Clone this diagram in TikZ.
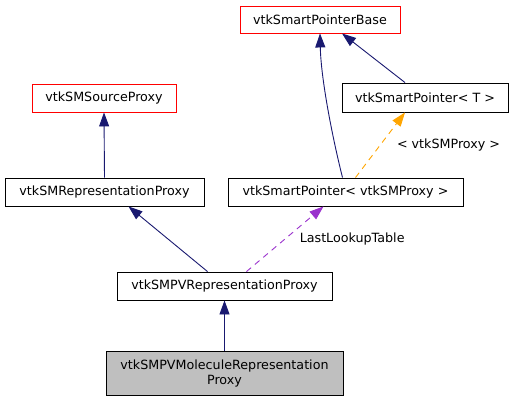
\documentclass[tikz,border=0pt]{standalone}
\usepackage{fontspec}
\setmainfont{DejaVu Sans}
\usepackage{tikz}
\usetikzlibrary{calc,arrows.meta}

\definecolor{edgeblue}{HTML}{191970}
\definecolor{edgepurple}{HTML}{9A32CD}
\definecolor{edgeorange}{HTML}{FFA500}
\definecolor{boxgray}{HTML}{BFBFBF}

\tikzset{
  cls/.style={draw=black, fill=white, line width=0.9pt, inner sep=0pt, align=center,
    font=\fontsize{12.7}{15}\selectfont},
  extcls/.style={cls, draw=red},
  inherit/.style={draw=edgeblue, line width=0.9pt, -{Triangle[length=14pt,width=10pt]}},
  usage/.style={line width=0.9pt, dash pattern=on 6pt off 5pt, -{Triangle[length=14pt,width=10pt]}},
}

\begin{document}
\begin{tikzpicture}[x=1pt, y=-1pt]
    \useasboundingbox (0,0) rectangle (513,401);
    %
    \node[extcls, minimum width=160pt, minimum height=27pt] (base) at (320, 19.5) {vtkSmartPointerBase};
    \node[cls, minimum width=166pt, minimum height=29pt] (spT) at (425, 97.5) {vtkSmartPointer< T >};
    \node[extcls, minimum width=144pt, minimum height=28pt] (src) at (104, 98) {vtkSMSourceProxy};

    %
    \node[cls, minimum width=199pt, minimum height=28pt] (rep) at (104.5, 192) {vtkSMRepresentationProxy};
    \node[cls, minimum width=235pt, minimum height=28pt] (spP) at (345.5, 192) {vtkSmartPointer< vtkSMProxy >};
    \node[cls, minimum width=215pt, minimum height=28pt] (pvrep) at (224.5, 286) {vtkSMPVRepresentationProxy};
    \node[cls, fill=boxgray, minimum width=237pt, minimum height=44pt] (mol) at (224.5, 373)
        {vtkSMPVMoleculeRepresentation\\Proxy};

    %
    \draw[inherit] (mol.north) -- (pvrep.south);
    \draw[inherit] ([xshift=-17pt]pvrep.north) -- ([xshift=24pt]rep.south);
    \draw[inherit] (rep.north) -- (src.south);
    \draw[inherit] ([xshift=-3pt]spP.north) .. controls (333,140) and (321,80) .. (base.south);
    \draw[inherit] ([xshift=-20pt]spT.north) -- ([xshift=22pt]base.south);

    %
    \draw[usage, edgepurple] ([xshift=22pt]pvrep.north) -- ([xshift=-22pt]spP.south)
        node[pos=0.5, right=11pt, black, font=\fontsize{12.7}{15}\selectfont] (lut) {LastLookupTable};
    \draw[usage, edgeorange] ([xshift=10pt]spP.north) -- ([xshift=-20pt]spT.south)
        node[pos=0.5, right=13pt, black, font=\fontsize{12.7}{15}\selectfont] (tmpl) {< vtkSMProxy >};

\end{tikzpicture}
\end{document}
